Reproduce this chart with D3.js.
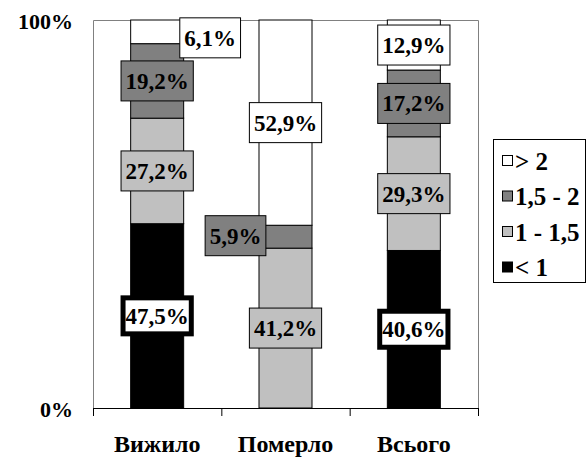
<!DOCTYPE html>
<html>
<head>
<meta charset="utf-8">
<script src="https://cdn.jsdelivr.net/npm/d3@7/dist/d3.min.js"></script>
<style>
  html, body { margin: 0; padding: 0; background: #fff; }
  svg { display: block; }
</style>
</head>
<body>
<svg id="chart" width="588" height="457"></svg>
<script>
// Categories along the x axis
const categories = ["Вижило", "Померло", "Всього"];
// Series names, stacked from bottom to top
const seriesNames = ["< 1", "1 - 1,5", "1,5 - 2", "> 2"];
// Share of each group, percent
const lessThan1 = [47.5, 0, 40.6];
const from1to15 = [27.2, 41.2, 29.3];
const from15to2 = [19.2, 5.9, 17.2];
const moreThan2 = [6.1, 52.9, 12.9];
// Value axis tick labels
const yTicks = [0, 100];

const seriesValues = [lessThan1, from1to15, from15to2, moreThan2];
const fills = ["#000000", "#c0c0c0", "#808080", "#ffffff"];

const svg = d3.select("#chart");
const plot = { left: 93, right: 478, top: 20, bottom: 408 };

// every piece of text uses the same bold serif face
function label(sel, size) {
  return sel.attr("style", `font-family:'Liberation Serif';font-weight:bold;font-size:${size}px;fill:#000`);
}

const x = d3.scaleBand().domain(categories).range([plot.left, plot.right]).padding(0);
const y = d3.scaleLinear().domain([0, 100]).range([plot.bottom, plot.top]);
const barFrac = 0.413;
const barW = x.bandwidth() * barFrac;

// build rows for d3.stack
const rows = categories.map((c, i) => {
  const r = { category: c };
  seriesNames.forEach((s, k) => { r[s] = seriesValues[k][i]; });
  return r;
});
const stacked = d3.stack().keys(seriesNames)(rows);

// plot area frame (grey top, left and right edges)
svg.append("path")
  .attr("d", `M${plot.left + 0.5},${plot.bottom}V${plot.top + 0.5}H${plot.right + 0.5}V${plot.bottom}`)
  .attr("fill", "none").attr("stroke", "#808080").attr("stroke-width", 1);

// stacked segments
stacked.forEach((layer, k) => {
  svg.append("g").selectAll("rect")
    .data(layer.filter(d => d[1] - d[0] > 0))
    .join("rect")
    .attr("x", d => x(d.data.category) + (x.bandwidth() - barW) / 2)
    .attr("y", d => y(d[1]))
    .attr("width", barW)
    .attr("height", d => y(d[0]) - y(d[1]))
    .attr("fill", fills[k])
    .attr("stroke", "#000").attr("stroke-width", 1);
});

// category axis
const xAxis = d3.axisBottom(x).tickSize(0).tickFormat("");
const gx = svg.append("g").attr("transform", `translate(0,${plot.bottom})`).call(xAxis);
gx.select(".domain").attr("stroke", "#000").attr("d", `M${plot.left},0.5H${plot.right + 1}`);
// tick marks at category boundaries
const edges = categories.map(c => x(c)).concat([plot.right]);
gx.selectAll("line.edge").data(edges).join("line").attr("class", "edge")
  .attr("x1", d => d + 0.5).attr("x2", d => d + 0.5).attr("y1", 0).attr("y2", 8)
  .attr("stroke", "#000").attr("stroke-width", 1);
gx.selectAll("text.cat").data(categories).join("text").attr("class", "cat")
  .attr("x", d => x(d) + x.bandwidth() / 2)
  .attr("y", 44)
  .attr("text-anchor", "middle")
  .call(label, 24)
  .text(d => d);

// value axis labels
svg.append("g").selectAll("text").data(yTicks).join("text")
  .attr("x", 73)
  .attr("y", d => y(d) + 8.5)
  .attr("text-anchor", "end")
  .call(label, 22)
  .text(d => d + "%");

// data labels
const fmt = v => String(v.toFixed(1)).replace(".", ",") + "%";
const labelNudge = { "0-3": [53, 6], "1-2": [-50, -1] };
const gl = svg.append("g");
stacked.forEach((layer, k) => {
  layer.forEach((d, i) => {
    const v = d[1] - d[0];
    if (v <= 0) return;
    const nudge = labelNudge[i + "-" + k] || [0, 0];
    const cx = x(d.data.category) + x.bandwidth() / 2 + nudge[0];
    const cy = (y(d[0]) + y(d[1])) / 2 + nudge[1];
    const g = gl.append("g");
    const rect = g.append("rect");
    const t = g.append("text")
      .attr("x", cx).attr("y", cy + 8)
      .attr("text-anchor", "middle")
      .call(label, 23)
      .text(fmt(v));
    const w = t.node().getComputedTextLength() + 10;
    const h = 41;
    if (k === 0) {
      // white box with heavy black frame for the lowest group
      rect.attr("x", cx - w / 2 + 2.5).attr("y", cy - h / 2 + 2.5)
        .attr("width", w - 5).attr("height", h - 5)
        .attr("fill", "#fff").attr("stroke", "#000").attr("stroke-width", 5);
    } else {
      rect.attr("x", cx - w / 2 + 0.5).attr("y", cy - h / 2 + 0.5)
        .attr("width", w - 1).attr("height", h - 1)
        .attr("fill", fills[k]).attr("stroke", "#000").attr("stroke-width", 1);
    }
  });
});

// legend
const legend = svg.append("g");
legend.append("rect")
  .attr("x", 493.5).attr("y", 139.5).attr("width", 92).attr("height", 143)
  .attr("fill", "#fff").attr("stroke", "#000").attr("stroke-width", 1);
const legendOrder = [3, 2, 1, 0];
legendOrder.forEach((k, j) => {
  const cy = 161 + j * 35.5;
  legend.append("rect")
    .attr("x", 502.5).attr("y", cy - 5.5).attr("width", 10).attr("height", 10)
    .attr("fill", fills[k]).attr("stroke", "#000").attr("stroke-width", 1);
  legend.append("text")
    .attr("x", 515).attr("y", cy + 8.5)
    .call(label, 25)
    .text(seriesNames[k]);
});
</script>
</body>
</html>
